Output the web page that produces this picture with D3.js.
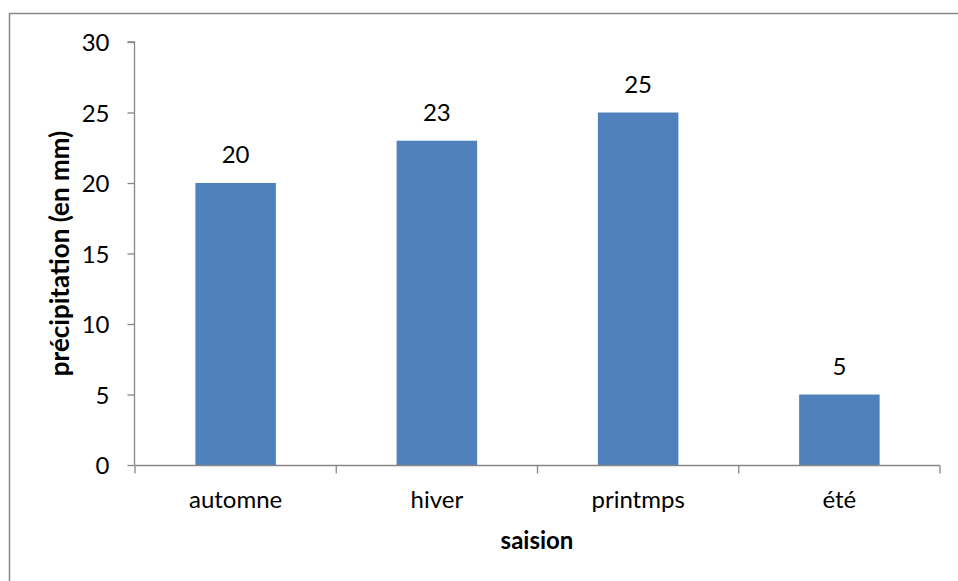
<!DOCTYPE html>
<html>
<head>
<meta charset="utf-8">
<script src="https://cdn.jsdelivr.net/npm/d3@7"></script>
<style>
  html, body { margin: 0; padding: 0; background: #fff; }
  svg { display: block; }
  text { font-family: Lato, "Open Sans", sans-serif; fill: #000; }
</style>
</head>
<body>
<svg id="chart" width="958" height="581"></svg>
<script>
const categories = ["automne", "hiver", "printmps", "été"];
const values = [20, 23, 25, 5];
const yTicks = [0, 5, 10, 15, 20, 25, 30];
const yTitle = "précipitation (en mm)";
const xTitle = "saision";

const svg = d3.select("#chart");
const axisColor = "#868686";
const barColor = "#4F81BD";

// outer border
svg.append("rect")
  .attr("x", 9.5).attr("y", 13.5)
  .attr("width", 980).attr("height", 600)
  .attr("fill", "#fff").attr("stroke", axisColor).attr("stroke-width", 1.5);

const x = d3.scaleBand().domain(categories).range([135, 940])
  .paddingInner(0.6).paddingOuter(0.3);
const y = d3.scaleLinear().domain([0, 30]).range([465, 42]);

// bars
svg.selectAll("rect.bar").data(values).enter().append("rect")
  .attr("class", "bar")
  .attr("x", (d, i) => x(categories[i]))
  .attr("width", x.bandwidth())
  .attr("y", d => y(d))
  .attr("height", d => y(0) - y(d))
  .attr("fill", barColor);

// data labels
svg.selectAll("text.lbl").data(values).enter().append("text")
  .attr("class", "lbl")
  .attr("x", (d, i) => x(categories[i]) + x.bandwidth() / 2)
  .attr("y", d => y(d) - 20)
  .attr("text-anchor", "middle")
  .style("font-size", "24px")
  .text(d => d);

// y axis
const yAxis = d3.axisLeft(y).tickValues(yTicks).tickSize(7).tickPadding(18).tickFormat(d3.format("d"));
const gy = svg.append("g").attr("transform", "translate(134.5,0)").call(yAxis);
gy.select(".domain").attr("stroke", axisColor).attr("stroke-width", 1.3).attr("d", `M-7,${y(30)}H0V${y(0)}`);
gy.selectAll(".tick line").attr("stroke", axisColor).attr("stroke-width", 1.3);
gy.selectAll(".tick text").style("font-size", "24px").attr("font-family", null).attr("fill", "#000").attr("dy", "0.36em");

// x axis with ticks at band boundaries
const xAxisLine = svg.append("g").attr("transform", "translate(0,465.5)");
xAxisLine.append("path").attr("d", `M${x.range()[0]},0H${x.range()[1]}`)
  .attr("stroke", axisColor).attr("stroke-width", 1.3).attr("fill", "none");
const step = x.step();
const boundaries = d3.range(categories.length + 1).map(i => x.range()[0] + i * step);
xAxisLine.selectAll("line.bt").data(boundaries).enter().append("line")
  .attr("x1", d => d).attr("x2", d => d).attr("y1", 0).attr("y2", 8)
  .attr("stroke", axisColor).attr("stroke-width", 1.3);

svg.selectAll("text.cat").data(categories).enter().append("text")
  .attr("class", "cat")
  .attr("x", d => x(d) + x.bandwidth() / 2)
  .attr("y", 508)
  .attr("text-anchor", "middle")
  .style("font-size", "24px")
  .text(d => d);

// titles
svg.append("text")
  .attr("x", 537).attr("y", 549)
  .attr("text-anchor", "middle")
  .style("font-size", "24px").style("font-weight", "bold")
  .text(xTitle);

svg.append("text")
  .attr("transform", `translate(69,${(y(0) + y(30)) / 2}) rotate(-90)`)
  .attr("text-anchor", "middle")
  .style("font-size", "26px").style("font-weight", "bold")
  .text(yTitle);
</script>
</body>
</html>
